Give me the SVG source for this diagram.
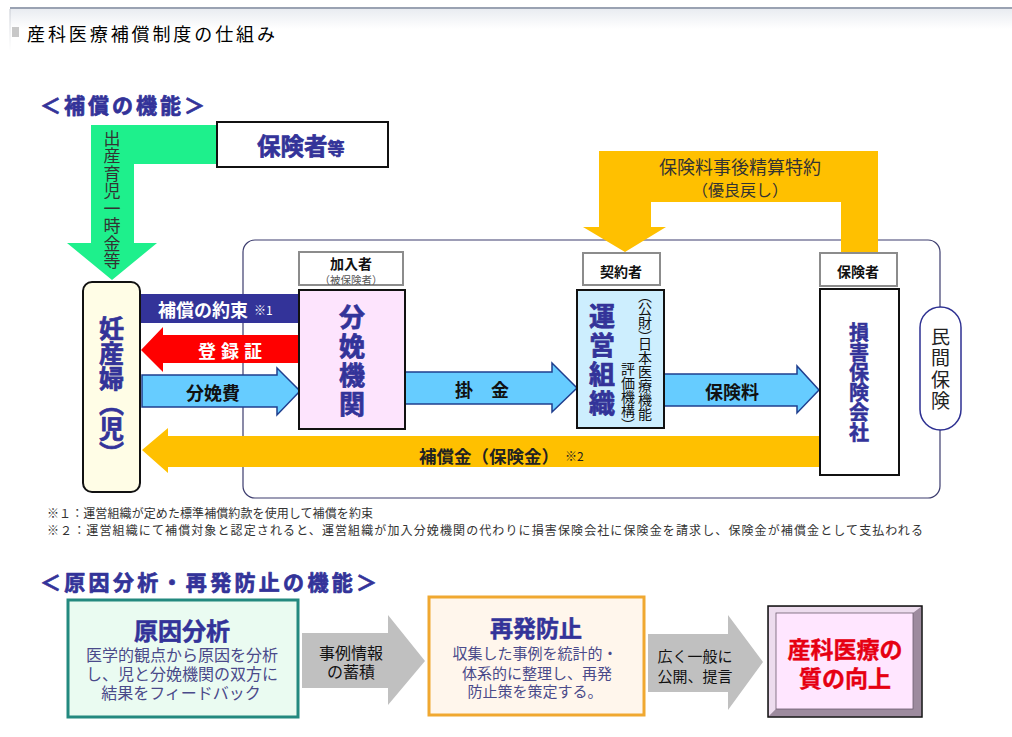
<svg xmlns="http://www.w3.org/2000/svg" width="1012" height="737" viewBox="0 0 1012 737">
<defs>
<linearGradient id="hdr" x1="0" y1="0" x2="0" y2="1"><stop offset="0" stop-color="#e9ecf1"/><stop offset="1" stop-color="#ffffff"/></linearGradient>
<linearGradient id="lft" x1="0" y1="0" x2="0" y2="1"><stop offset="0" stop-color="#c4c8d0"/><stop offset="1" stop-color="#ffffff"/></linearGradient>
</defs>
<style>
text{font-family:"Noto Sans CJK JP","Noto Sans CJK SC",sans-serif}
.b{font-weight:bold}
.navy{fill:#333399}
.hv{stroke:#333399;stroke-width:0.7;stroke-linejoin:round}
.c{text-anchor:middle;dominant-baseline:central}
.m{dominant-baseline:central}
.v{writing-mode:vertical-rl;dominant-baseline:central}
.vp{font-feature-settings:"vpal"}
.lbl{fill:#fff;stroke:#8c8c8c;stroke-width:2}
.node{stroke:#111;stroke-width:2}
.blue{fill:#66CCFF;stroke:#1F3F8F;stroke-width:1.5;stroke-linejoin:miter}
.gold{fill:#FFC000}
.gray{fill:#C0C0C0}
.body{fill:#4a4a8a;font-size:16px}
</style>
<rect width="1012" height="737" fill="#fff"/>
<g id="header">
<rect x="10" y="9" width="1002" height="20" fill="url(#hdr)"/>
<rect x="10" y="7" width="1002" height="2" fill="#9aa2b2"/>
<rect x="9.5" y="9" width="1" height="42" fill="url(#lft)"/>
<rect x="12" y="27" width="7" height="10" fill="#c8c8c8"/>
<text x="27" y="33" class="m" font-size="18" textLength="248" lengthAdjust="spacing" fill="#000">産科医療補償制度の仕組み</text>
<text x="40" y="104" class="m b navy hv" font-size="21" textLength="165" lengthAdjust="spacing">＜補償の機能＞</text>
</g>

<rect id="frame" x="243" y="240" width="697" height="258" rx="12" fill="none" stroke="#3c3c6e" stroke-width="1.2"/>

<g id="connectors">
<polygon points="91,125 217,125 217,164 134,164 134,243 157,243 112,280 67,243 91,243" fill="#1EF08C"/>
<text x="112" y="130" class="v" font-size="17" letter-spacing="0.5" fill="#333">出産育児一時金等</text>
<polygon class="gold" points="599,151 878,151 878,252 841,252 841,202 651,202 651,227 666,227 625,252 583,227 599,227"/>
<text class="c" font-size="18" fill="#333"><tspan x="740" y="166">保険料事後精算特約</tspan><tspan x="740" y="189" font-size="16">（優良戻し）</tspan></text>
<rect x="140" y="294" width="159" height="29" fill="#333399"/>
<text x="158" y="309" class="m b" font-size="18" fill="#fff">補償の約束<tspan font-size="12" font-weight="normal" dx="6">※1</tspan></text>
<polygon points="299,335 163,335 163,327 141,350 163,372 163,363 299,363" fill="#FF0000"/>
<text x="198" y="350" class="m b" font-size="18" letter-spacing="5" fill="#fff">登録証</text>
<polygon class="blue" points="142,375 277,375 277,368 300,391 277,415 277,407 142,407"/>
<text x="213" y="392" class="c b" font-size="18" fill="#111">分娩費</text>
<polygon class="blue" points="405,372 552,372 552,363 577,388 552,412 552,404 405,404"/>
<text x="482" y="389" class="c b" font-size="18" fill="#111">掛　金</text>
<polygon class="blue" points="664,374 797,374 797,366 819,390 797,413 797,406 664,406"/>
<text x="732" y="391" class="c b" font-size="18" fill="#111">保険料</text>
<polygon class="gold" points="820,436 168,436 168,428 142,450 168,473 168,467 820,467"/>
<text x="419" y="455" class="m b" font-size="17.5" fill="#222">補償金（保険金）<tspan font-size="12" font-weight="normal" dx="6">※2</tspan></text>
</g>

<g id="insurer-etc">
<rect x="217" y="122" width="171" height="45" fill="#fff" class="node"/>
<text x="257" y="155" class="b navy hv" font-size="23.5">保険者<tspan font-size="17">等</tspan></text>
</g>

<g id="pregnant">
<rect x="83" y="282" width="57" height="210" rx="9" fill="#FFFDE6" class="node"/>
<text x="111.5" y="316" class="v b navy hv" font-size="25">妊産婦（児）</text>
</g>

<g id="member-label">
<rect x="299" y="252" width="104" height="33" class="lbl"/>
<text class="c" fill="#111"><tspan x="351" y="263" font-size="14" font-weight="bold">加入者</tspan><tspan x="351" y="279" font-size="10.5" fill="#555">（被保険者）</tspan></text>
</g>
<g id="delivery-facility">
<rect x="299" y="290" width="106" height="139" fill="#FDE4FD" class="node"/>
<text x="352" y="304" class="v b navy hv" font-size="26" letter-spacing="3">分娩機関</text>
</g>

<g id="contractor-label">
<rect x="583" y="253" width="77" height="32" class="lbl"/>
<text x="621" y="271" class="c b" font-size="14" fill="#111">契約者</text>
</g>
<g id="operator">
<rect x="577" y="290" width="87" height="138" fill="#CDEEFE" class="node"/>
<text x="602" y="303" class="v b navy hv" font-size="26" letter-spacing="3">運営組織</text>
<text x="645" y="295" class="v vp" font-size="14" fill="#111">（公財）日本医療機能</text>
<text x="628" y="362" class="v vp" font-size="14" fill="#111">評価機構）</text>
</g>

<g id="insurer-label">
<rect x="820" y="253" width="77" height="33" class="lbl"/>
<text x="858" y="271" class="c b" font-size="14" fill="#111">保険者</text>
</g>
<g id="insurance-company">
<rect x="820" y="289" width="79" height="186" fill="#fff" class="node"/>
<text x="859" y="322" class="v b navy hv" font-size="20" style="stroke-width:0.5">損害保険会社</text>
</g>

<g id="private-insurance">
<rect x="920" y="307" width="41" height="123" rx="20.5" fill="#fff" stroke="#2e3192" stroke-width="1.5"/>
<text x="940.5" y="327" class="v" font-size="19" letter-spacing="2.5" fill="#222">民間保険</text>
</g>

<g id="notes">
<text class="m" font-size="12" fill="#333"><tspan x="47" y="512" textLength="326" lengthAdjust="spacing">※１：運営組織が定めた標準補償約款を使用して補償を約束</tspan><tspan x="47" y="529" textLength="876" lengthAdjust="spacing">※２：運営組織にて補償対象と認定されると、運営組織が加入分娩機関の代わりに損害保険会社に保険金を請求し、保険金が補償金として支払われる</tspan></text>
</g>

<text x="40" y="581" class="m b navy hv" font-size="21" textLength="337" lengthAdjust="spacing">＜原因分析・再発防止の機能＞</text>

<g id="bottom-connectors">
<polygon class="gray" points="302,633 388,633 388,615 425,661 388,705 388,688 302,688"/>
<text class="c" font-size="16" fill="#111"><tspan x="351" y="652">事例情報</tspan><tspan x="351" y="671">の蓄積</tspan></text>
<polygon class="gray" points="648,634 728,634 728,615 763,662 728,710 728,692 648,692"/>
<text class="c" font-size="15" fill="#111"><tspan x="695" y="655">広く一般に</tspan><tspan x="695" y="675">公開、提言</tspan></text>
</g>

<g id="cause-analysis">
<rect x="68" y="600" width="230" height="117" fill="#EAFBF1" stroke="#23897f" stroke-width="3"/>
<text x="182" y="629" class="c b navy hv" font-size="24" style="stroke-width:0.5">原因分析</text>
<text class="c body"><tspan x="182" y="654">医学的観点から原因を分析</tspan><tspan x="182" y="673">し、児と分娩機関の双方に</tspan><tspan x="181" y="692">結果をフィードバック</tspan></text>
</g>

<g id="prevention">
<rect x="429" y="597" width="215" height="118" fill="#FFF6EC" stroke="#F0A830" stroke-width="3"/>
<text x="536" y="627" class="c b navy hv" font-size="23" style="stroke-width:0.5">再発防止</text>
<text class="c body" style="font-size:15px"><tspan x="535" y="652">収集した事例を統計的・</tspan><tspan x="537" y="672">体系的に整理し、再発</tspan><tspan x="535" y="690">防止策を策定する。</tspan></text>
</g>

<g id="quality">
<rect x="768" y="606" width="154" height="111" fill="#b9a6b9" stroke="#111" stroke-width="1.5"/>
<polygon points="769,607 921,607 913,613 776,613 776,709 769,716" fill="#eddcee"/>
<polygon points="921,607 921,716 769,716 776,709 913,709 913,613" fill="#9d8b9e"/>
<rect x="776" y="613" width="137" height="96" fill="#FFE6FF" stroke="#6d5d6e" stroke-width="0.8"/>
<text class="c b" font-size="23" fill="#E60012" stroke="#E60012" stroke-width="0.4"><tspan x="845" y="648">産科医療の</tspan><tspan x="845" y="677">質の向上</tspan></text>
</g>
</svg>
